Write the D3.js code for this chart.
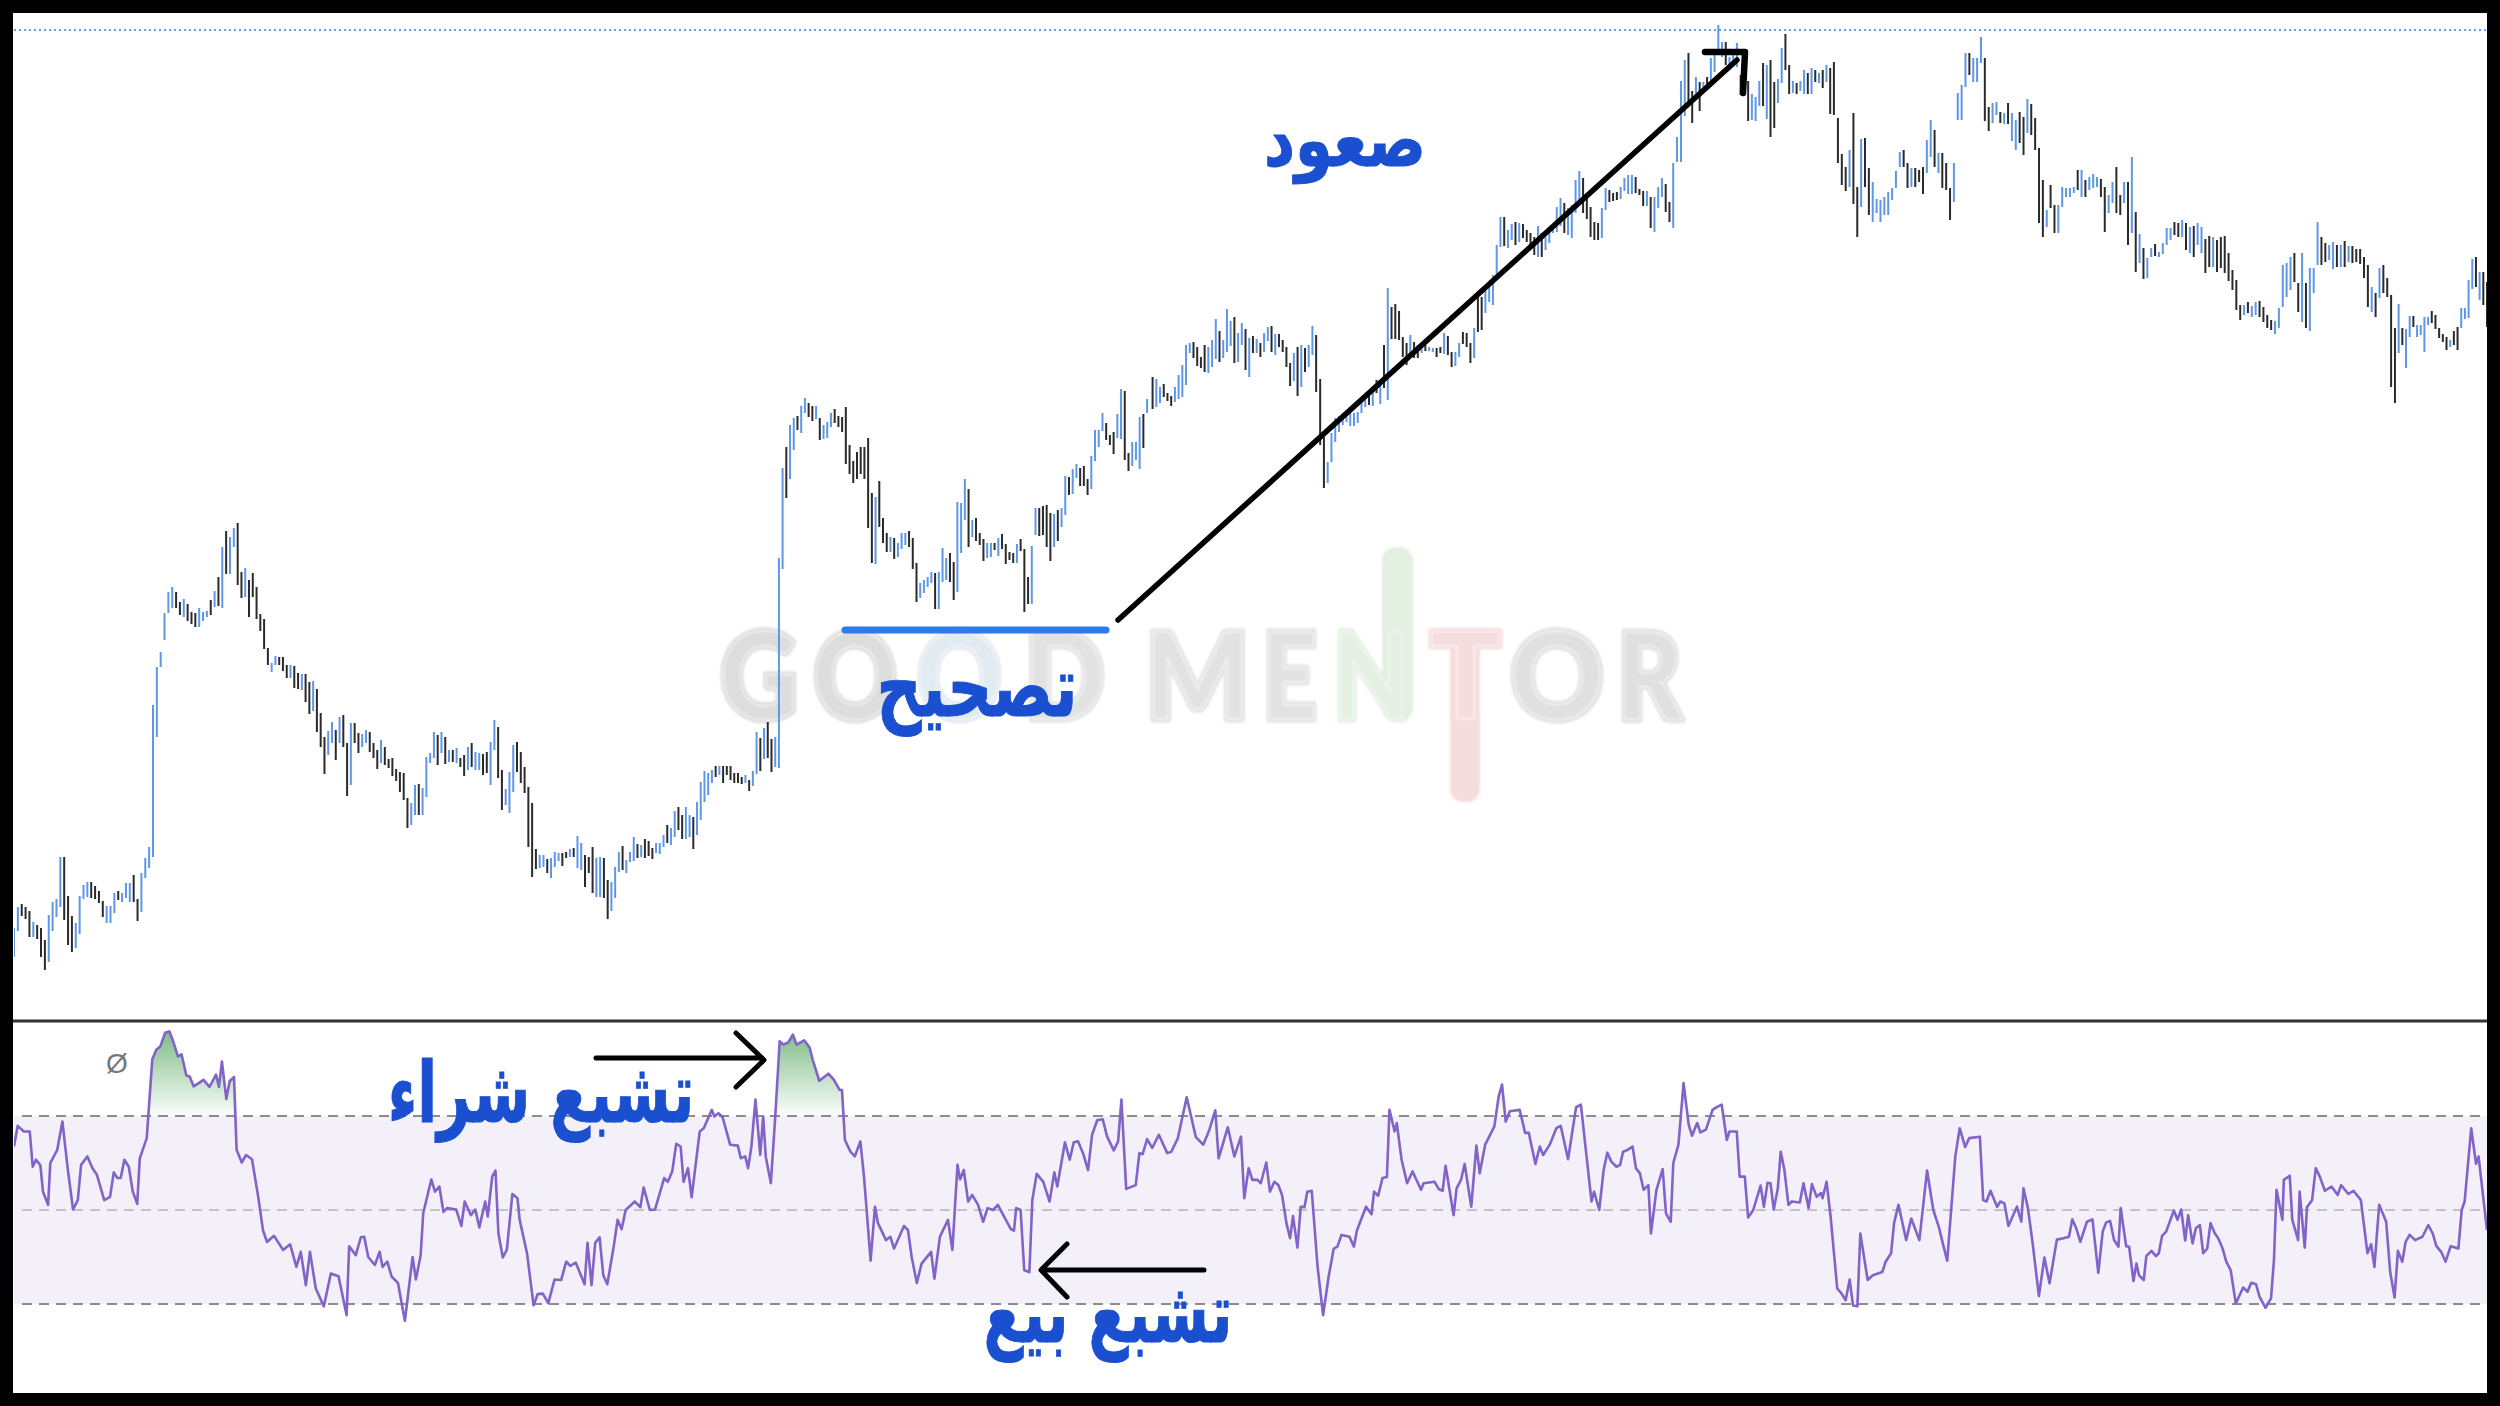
<!DOCTYPE html>
<html><head><meta charset="utf-8">
<script src="https://cdn.jsdelivr.net/npm/d3@7/dist/d3.min.js"></script>
<style>html,body{margin:0;padding:0;background:#000;overflow:hidden}svg{display:block}</style>
</head><body><svg id="c" width="2500" height="1406"></svg>
<script>
// price bars: [high, low, 1 = up / 0 = down]
const barsRun1=[[72,43,1],[93,69,1],[96,84,0],[93,81,0],[89,63,0],[78,63,1],[75,61,0],[72,43,0],[60,30,0],[85,38,1],[98,69,1],[101,83,1],[143,93,1],[143,80,0],[104,55,0],[84,48,0],[77,52,1],[104,66,1],[115,101,1],[118,103,1],[118,102,0],[114,101,0],[109,97,0],[99,83,0],[94,77,1],[94,77,1],[107,87,1],[109,100,0],[107,98,1],[117,102,1],[117,98,1],[125,98,0],[101,79,0],[127,88,1],[142,122,1],[153,132,1],[295,143,1],[333,263,1],[348,333,1],[387,360,1],[408,387,1],[413,392,1],[408,392,0],[398,385,0],[401,383,1],[396,379,0],[388,376,0],[387,373,0],[392,373,1],[388,379,1],[389,383,1],[400,385,0],[409,393,1],[423,394,0],[453,392,1],[469,426,0],[463,426,1],[472,453,1],[477,415,0],[428,402,0],[432,403,1],[420,383,0],[427,403,0],[413,381,0],[386,369,0],[381,351,0],[352,335,0],[337,328,1],[344,335,1],[343,335,0],[343,329,0],[335,322,0],[335,322,1],[334,312,0],[327,311,0],[326,310,1],[326,298,0],[318,286,0],[319,289,1],[311,268,0],[287,253,0],[263,226,0],[269,245,1],[278,257,1],[270,240,0],[283,257,1],[285,253,0],[257,204,0],[277,215,1],[277,257,0],[267,247,0],[266,253,1],[270,257,1],[268,248,0],[257,242,0],[250,231,0],[260,237,1],[253,235,0],[241,232,0],[242,224,0],[231,219,0],[228,208,0],[227,200,0],[202,172,0],[197,175,1],[215,185,1],[216,185,0],[212,185,1],[243,203,1],[247,237,1],[268,242,1],[265,235,0],[268,247,1],[263,236,0],[250,238,1],[250,238,0],[252,237,1],[242,233,0],[245,224,0],[253,230,1],[257,233,0],[248,230,1],[247,230,1],[246,225,0],[248,227,0],[258,215,1],[280,250,1],[273,222,0],[230,190,0],[211,195,1],[228,187,1],[255,208,1],[258,228,0],[248,217,0],[233,207,0],[213,153,0],[197,123,0],[151,131,0],[145,132,1],[145,133,1],[141,127,0],[142,122,1],[148,133,1],[147,139,1],[147,134,0],[148,142,0],[151,143,1],[152,143,0],[164,132,1],[157,130,1],[145,113,0],[143,127,0],[153,107,0],[142,103,1],[143,103,1],[142,102,0],[120,81,0],[118,89,1],[133,102,1],[148,128,1],[154,130,0],[140,127,1],[148,138,1],[163,139,1],[156,142,0],[155,143,1],[161,142,0],[159,144,0],[152,141,0],[157,147,1],[157,146,1],[165,153,1],[175,157,0],[172,155,1],[189,163,1],[193,170,0],[185,161,0],[193,161,1],[185,163,1],[183,151,0],[198,165,1],[218,180,1],[229,198,1],[227,205,1],[230,217,1],[234,223,0],[234,225,1],[234,217,0],[234,225,0],[234,220,0],[227,217,0],[227,217,0],[223,216,0],[225,217,1],[220,209,0],[229,214,1],[268,226,1],[262,229,0],[272,241,1],[278,242,0],[261,228,0],[263,233,1],[442,232,1]];
const barsRun2=[[532,431,1],[553,502,0],[575,521,1],[582,550,1],[584,570,0],[594,567,1],[602,587,1],[597,583,0],[594,579,0],[594,581,1],[582,560,0],[575,561,1],[578,562,1],[587,573,1],[591,577,0],[584,573,0],[583,568,0],[593,536,0],[555,526,0],[539,517,0],[548,521,0],[553,526,0],[553,521,0],[562,472,0],[507,437,0],[503,436,1],[519,473,0],[482,457,0],[467,448,0],[463,448,1],[462,441,0],[457,443,1],[467,451,1],[467,455,1],[469,453,0],[462,431,0],[437,398,0],[417,402,1],[420,407,1],[423,413,1],[428,417,1],[427,391,0],[428,391,1],[452,418,1],[442,420,1],[447,418,0],[438,400,0],[498,408,1],[497,447,1],[521,480,1],[511,453,0],[480,463,1],[482,459,0],[467,455,0],[461,439,0],[457,442,1],[457,443,1],[457,450,0],[462,444,1],[466,451,0],[456,436,0],[448,440,0],[447,437,0],[456,437,1],[461,449,0],[451,388,0],[423,396,0],[454,396,1],[492,465,1],[492,464,0],[494,465,0],[495,453,0],[487,439,0],[486,453,1],[490,459,0],[492,473,1],[524,485,1],[523,505,0],[531,506,1],[536,522,1],[532,514,0],[534,514,0],[521,505,0],[544,511,1],[570,539,1],[570,553,1],[587,569,1],[577,560,0],[565,555,0],[568,546,0],[586,562,1],[611,561,1],[609,540,0],[547,529,0],[558,534,1],[558,540,1],[583,531,1],[586,552,0],[601,587,1]];
const barsRun3=[[623,591,0],[621,593,1],[613,597,1],[616,603,0],[607,599,0],[604,594,0],[613,598,1],[625,601,1],[635,603,1],[655,615,1],[657,647,1],[658,642,0],[653,634,0],[643,632,0],[655,628,0],[653,627,1],[660,633,1],[681,641,1],[669,638,0],[660,642,1],[691,648,1],[679,654,1],[683,637,0],[667,638,1],[677,655,1],[671,630,0],[662,623,1],[664,647,0],[661,647,1],[657,643,0],[667,648,1],[673,659,1],[674,648,0],[666,645,1],[666,653,0],[660,648,0],[653,633,0],[637,614,0],[647,619,1],[653,604,0],[655,613,1],[652,628,0],[655,633,1],[674,645,1],[665,608,0]];
const barsRun4=[[621,555,0],[563,512,0],[538,517,1],[567,538,1],[582,558,1],[584,568,1],[585,575,1],[585,578,1],[587,574,1],[587,574,1],[588,577,1],[598,587,1],[602,593,1],[605,595,0],[612,594,1],[620,607,0],[617,596,1],[655,612,0],[712,600,1],[693,661,0],[696,661,0],[689,660,0],[663,643,0],[657,635,0],[665,643,1],[658,642,0],[655,642,0],[652,647,1],[655,649,0],[653,649,1],[652,648,1],[652,643,0],[653,647,0],[667,646,1],[664,645,0],[648,633,0],[648,634,1],[657,643,1],[668,656,0],[667,653,0],[657,637,0],[672,642,1],[703,668,0],[703,670,0],[710,687,1],[718,698,1],[725,695,1],[755,725,1],[783,753,1],[783,754,0],[770,752,1],[776,760,1],[778,755,0],[777,758,1],[776,762,0],[770,758,0],[767,755,0],[763,745,0],[774,743,1],[767,743,0],[763,750,1],[772,757,1],[776,767,1],[793,768,1],[802,774,1],[797,767,0],[792,765,1],[795,762,1],[820,787,1],[829,800,1],[822,787,0],[803,781,0],[793,763,0],[778,760,0],[777,760,0],[792,762,1],[812,790,1],[810,798,0],[807,799,0],[808,800,0],[813,801,1],[822,809,1],[825,806,1],[825,806,1],[823,807,0],[811,805,0],[809,794,0],[809,794,1],[803,772,0],[803,768,1],[813,792,1],[822,803,1],[816,788,0],[798,778,0],[837,772,1],[863,838,1]];
const barsRun5=[[919,838,1],[940,884,1],[947,895,0],[909,877,0],[923,900,1],[918,889,0],[918,909,1],[923,910,0],[942,920,1],[950,928,1],[975,947,1],[958,943,1],[958,935,0],[943,932,1],[948,933,1],[957,933,1],[925,905,0],[943,913,0],[919,879,0],[906,880,1],[903,879,1],[919,894,1],[937,894,0],[935,881,1],[940,863,0],[918,872,0],[921,897,1],[952,917,1],[966,930,0],[935,906,0],[919,907,1],[917,906,0],[919,909,1],[930,906,1],[927,906,0],[932,906,1],[930,918,0],[927,917,1],[930,912,0],[935,918,1],[932,886,0],[938,885,0]];
const barsRun6=[[882,837,0],[846,815,0],[833,809,0],[850,813,1],[887,796,0],[813,763,0],[861,793,1],[862,813,0],[832,785,0],[818,778,1],[801,787,1],[800,778,1],[803,785,1],[808,785,1],[812,800,1],[829,812,1],[848,833,1],[850,833,0],[837,812,0],[832,813,1],[832,813,0],[830,818,0],[833,806,0],[860,827,1],[880,843,1],[870,833,0],[847,827,1],[847,812,0],[837,810,0],[812,780,0],[837,798,1],[907,880,1],[915,880,1],[947,913,1],[947,925,0],[942,918,1],[942,918,1],[963,937,1],[942,879,0],[893,869,0],[897,877,1],[898,885,1],[888,877,0],[887,876,1],[897,876,0],[887,859,1],[880,850,1],[888,857,0],[883,845,0],[901,867,1],[896,865,0],[882,850,0],[852,777,0],[820,763,0],[790,773,1],[815,792,0],[795,767,0],[795,767,1],[813,793,1],[812,803,1],[812,803,1],[813,807,1],[830,810,0],[830,803,1],[820,803,0],[823,810,1],[826,812,1],[823,813,1],[821,803,0],[813,768,0],[805,787,1],[818,797,1],[833,787,0],[805,785,0],[818,797,1],[818,755,0],[843,767,1],[788,728,0],[766,737,1],[752,721,0],[742,722,1],[752,743,1],[756,744,0],[748,743,1],[757,746,1],[772,755,1],[772,760,1],[778,765,0],[777,763,0],[780,763,1],[777,750,0],[773,747,1],[774,743,0],[777,755,1],[773,747,1],[761,727,0],[764,733,0],[763,733,1],[760,728,0],[763,732,0],[764,727,0],[747,719,0],[730,710,0],[720,690,0],[695,680,0],[695,685,1],[698,687,0],[694,683,1],[698,685,1],[699,683,0],[693,678,0],[685,672,0],[680,670,0],[679,666,1],[692,672,1],[735,693,1],[737,703,1],[743,710,1],[747,718,0],[717,688,0],[747,678,1],[717,672,0],[732,669,1],[732,707,1],[778,735,1],[763,735,0],[757,738,0],[755,740,1],[758,731,1],[755,733,0],[755,733,1],[759,733,0],[754,738,1],[754,737,0],[751,738,0],[751,736,0],[743,722,0],[735,693,0],[713,688,1],[707,683,0],[732,702,1],[735,707,0],[722,703,0],[705,613,0],[672,597,0],[696,647,1],[672,655,0],[671,632,1],[684,663,1],[684,673,0],[675,663,1],[675,665,1],[683,648,1],[683,675,1],[689,677,0],[685,671,0],[672,662,0],[666,658,0],[663,650,0],[660,653,1],[669,655,0],[673,650,0],[692,672,1],[692,681,1],[720,682,1],[741,711,1],[743,713,0],[728,700,1],[728,695,0],[718,673,0]];
// where runs sit on the session's bar count: [position within run (negative = from its end), bar number]
const runAnchors=[[[0,0],[36,37.9],[58,61],[103,107.3],[156,161.9],[-1,208.6]],[[0,209.6],[-1,309]],[[0,310.5],[-1,355.1]],[[0,356.2],[-1,453.5]],[[0,454.6],[-1,496.3]],[[0,497.4],[37,536.4],[-26,649.3],[-1,674.4]]];
const barRuns=[barsRun1,barsRun2,barsRun3,barsRun4,barsRun5,barsRun6];

// RSI vertices: [bar, value]
const rsiPart1=[[0,63.5],[1,67.9],[2.7,66.7],[4.3,66.7],[5.1,59.2],[6,60.7],[7.2,59.5],[7.9,53.9],[9.3,51.1],[9.9,60],[11.8,62.8],[13.2,68.8],[14.7,58.5],[16.1,50.1],[17.4,52.1],[18.3,59.6],[20,61.4],[21.4,58.9],[22.6,57.5],[24.6,52.1],[26.2,52.8],[27.2,58],[28.2,56.8],[29.1,56.8],[30.1,60.7],[31.3,59.2],[32.4,53.9],[33.6,51.3],[34.3,61],[36.2,65.3],[37.7,82],[38.8,84.1],[39.9,84.8],[41.2,87.7],[42.4,88],[43.4,85.9],[44.7,82.7],[45.7,83.1],[47,78.6],[47.9,78.4],[49,76.3],[51.7,77.7],[53.3,76.2],[55.1,78.8],[55.9,76.2],[56.7,81.6],[57.9,73.6],[58.8,77.4],[60,78.3],[60.7,62.8],[62.1,60.1],[63.3,61.7],[64.9,60.8],[66.6,52.8],[67.9,45.7],[69,43.2],[70.9,44.5],[73.4,41.5],[75.3,42.7],[77,37.9],[78.2,41.1],[79.6,34],[80.7,41.1],[82.3,33.3],[84.5,29.5],[86.4,36.5],[88.5,35.9],[90.7,27.6],[91.4,42.3],[93.2,40.4],[94.6,44.2],[95.5,44.3],[96.6,40],[98.4,38.3],[99.7,41.1],[100.5,37.9],[101.8,39],[103,35.8],[104.7,34.5],[106.6,26.4],[108.7,40],[109.6,35.2],[110.9,40.4],[111.6,49.3],[113.8,56.5],[114.8,53.9],[116,55],[117.1,49.6],[118.1,50.4],[120.6,50.1],[122,46.6],[122.9,51.8],[124.6,48.9],[125.8,50.1],[126.9,46.3],[128.5,51.8],[129.2,48.6],[130.4,57.1],[131.3,58.4],[132.1,45],[133.3,39.9],[134.4,41.5],[135.9,53.4],[137.3,52.5],[137.9,47.9],[139.9,40.8],[141.7,29.7],[142.8,32.1],[144.2,32.2],[145.7,30.2],[147.4,35.2],[149.2,35.1],[150.6,39],[151.7,38.1],[153.2,38.8],[155.6,34.2],[156.4,43],[157.5,34],[158.5,43],[159.7,44.2],[160.7,36.1],[161.8,34.2],[163.6,42.5],[164.6,47.9],[165.7,45.9],[166.8,50],[169.3,51.8],[170.8,50.6],[171.7,54.8],[173.4,50],[174.8,50.1],[177.3,56.8],[178.3,56],[179.5,58.2],[180.6,64.1],[181.8,63.5],[182.6,56],[183.8,58.9],[184.8,52.7],[187,66.7],[188.1,67.4],[190.3,71.3],[191,69.9],[192.1,70.6],[193.2,69.8],[195.3,63.9],[197.4,63.7],[198.2,61],[199.4,61.4],[200.2,58.9],[201.1,63.5],[202.2,73.5],[203.5,61.7],[204.3,69.9],[205,61.4],[206.4,55.7],[207.6,69.9],[208.8,85.9],[209.8,85.2],[211.2,85.7],[212.4,87.3],[213.4,85.2],[215.5,86.1],[217,84.5],[217.8,82]];
const rsiPart2=[[219.6,77.5],[222.1,79],[223.6,77.7],[225.1,75.6],[225.8,75.5],[226.6,64.9],[228.1,62.4],[229.3,61.4],[230.8,64.6],[231.8,57.1],[233.6,39.2],[234.8,50.7],[235.6,47.2],[237.8,43.6],[239,44.3],[240,41.8],[242.7,46.6],[243.8,45.7],[244.8,40],[246.2,34.5],[247.5,38.6],[250.1,41.1],[251,35.4],[252.5,44.3],[254.7,47.9],[255.9,41.5],[257.3,59.6],[258,56.5],[259,58.5],[260.2,51.8],[261.3,53.2],[262.9,51.1],[264.3,47.5],[265.5,50.4],[267,50],[268.3,51.1],[270,48.6],[271.9,45.9],[272.7,45.6],[273.3,50.4],[274.5,50],[275.5,37.2],[276.9,36.8],[277.7,52.1],[278.9,57.7],[280.7,56],[282.4,51.8],[283.7,58],[284.5,55],[286.6,64.4],[287.9,60.7],[289,64.4],[290.2,64.6],[291.7,61.7],[292.9,58.5],[294,66],[295.4,69.1],[296.9,69.3],[298.1,65.6],[299.9,62.7],[301.1,64.6],[302,73.5],[303.3,54.5],[305.9,55.3],[306.9,62.1],[307.8,61.9],[309,65.1],[310.4,63.2],[312.2,66],[314.5,62.1],[315.6,62.4],[317.4,65.3],[319.8,74],[322.3,65.5],[324.3,63.9],[326,67.1],[327.6,71.2],[328.5,61],[331,67.6],[332.8,61.4],[334.6,65.6],[335.5,52.5],[336.7,58.9],[337.7,56.4],[339.1,56.4],[340,55.7],[341.5,60.1],[342.5,53.9],[343.7,56],[344.8,55.3],[345.8,53.2],[347,47.2],[348,44],[348.8,48.7],[350,42],[350.9,50.7],[351.9,50.6],[352.7,53.9],[353.9,54.1],[355.5,37.9],[357,27.6],[358.5,35.8],[359.9,41.8],[360.9,42.2],[362,44.7],[364.2,44.3],[365.4,42.2],[366.2,45.6],[368.7,50.7],[370.2,49.1],[370.9,53.9],[372,53],[373.2,56.8],[374.4,57],[375.1,71.3],[376.5,66.7],[377.1,68.5],[378.4,60.7],[379.9,55.7],[381.4,58.2],[383.7,54.3],[384.4,55.7],[387.4,56],[388.6,54.4],[389.6,54.1],[390.4,59.4],[392.6,48.9],[393.4,54.6],[394.6,56.4],[395.6,59.8],[397.4,50.7],[398.8,63.7],[399.7,57.8],[401.2,63.9],[403.7,67.8],[404.9,74.3],[405.8,76.7],[406.8,68.8],[407.9,71],[410.6,71.3],[412.1,66.4],[413.1,66.4],[414.9,59.8],[416.1,63.5],[417,61.7],[418.8,63.9],[420.6,67.4],[421.8,67.9],[423.8,60.8],[426,71.9],[427.3,72.4],[428.7,62.4],[430.2,51.8],[430.9,53.9],[432.3,50],[433.5,58.5],[434.5,62.2],[435.6,60.3],[437,59.2]];
const rsiPart3=[[438,59.6],[438.8,62.4],[439.8,62.7],[441.4,63.5],[442.3,58.9],[443.4,57.8],[444.4,54.3],[445.7,55.3],[446.4,45],[447.9,54.3],[449.6,58.7],[450.5,49.3],[451.8,47.5],[452.5,60],[453.9,63.9],[455.3,77],[456.7,68.1],[457.6,65.8],[459,68.5],[459.9,66.5],[461.4,67.1],[463.2,71.3],[464.3,71.9],[465.7,72.4],[467.1,64.9],[467.8,66.7],[469.8,66.7],[470.6,57.1],[472,57.1],[472.9,48.4],[474.3,50],[476.3,55.2],[477.2,50.7],[478.2,55.8],[479,55.7],[479.9,50.1],[481,54.6],[481.8,62.4],[482.8,58.5],[483.9,51.1],[484.8,51.8],[487,51.6],[488,55.7],[489.4,50.4],[490.3,55.5],[491.6,52.8],[492.8,53.6],[493.2,52.5],[494.3,56],[495.4,48.6],[497.2,33.3],[498.4,32.2],[499.5,30.8],[500.6,35.2],[501.5,29.7],[502.7,29.5],[503.5,45],[505.5,35.1],[506.9,36.1],[509.5,36.8],[510.4,39],[511.9,40.8],[512.7,47.2],[513.9,51.1],[516,43.6],[517.4,48.2],[519.6,43.6],[521.7,58.4],[523.4,50],[524.9,46.4],[526,42.9],[527.2,39.2],[529.4,61.4],[530.6,67.4],[532.1,63.4],[533.2,65.3],[536.1,65.6],[537,52.1],[537.9,51.8],[539,54.1],[540.8,50.7],[541.7,51.8],[542.8,51.4],[543.9,46.6],[546.2,50.7],[547.4,47.5],[548,54.6],[549.2,50.4],[550.5,42.9],[552.2,31.7],[553.7,39.9],[555.1,34.4],[557.1,43.7],[558.9,44],[560.4,44.3],[561.3,48],[562.4,46.1],[563.5,43.2],[565.3,47.5],[566.8,48],[568.4,36.6],[569.6,45.4],[570.5,47.3],[571.6,47.7],[572.7,43.6],[573.9,42.2],[574.5,50.4],[576,42.3],[576.8,42.2],[578,34.9],[578.8,38.6],[579.5,36.1],[580.8,35.1],[581.5,40.2],[582.9,41.3],[584.1,40.2],[584.9,40.8],[585.8,44.5],[586.9,45.4],[589,49.9],[590,47.9],[591,50.1],[592.1,43.5],[592.9,48.9],[594.1,42.9],[595,46.1],[596.1,46.8],[597,40.8],[598.1,41.8],[599,47.2],[600.2,45],[601.1,44],[602.3,41.8],[603.3,39],[604.5,37.2],[605.9,30.1],[607.9,33.5],[609.1,32.6],[610.1,34.5],[611.4,34.2],[612.4,31.5],[614,29.2],[615.5,31.2],[616.3,39.3],[617,54.3],[618.6,47.9],[619,56.4],[620.6,57.3],[621.3,47.9],[622.9,43.6],[623.3,53.9],[624.7,42],[625.3,50.6],[626.7,52.1],[627.7,58.9],[628.8,57.1],[630.2,54.1],[632,55],[633.7,53.2],[634.6,55.3],[636.6,53.4],[638,54.1],[640,52.1],[641.8,40.8],[642.8,42.7],[643.7,37.9],[645,51.1],[646.9,47.5],[648,36.8],[649.2,31.4],[650.1,41.3],[651.3,39],[652.2,43.2],[653.3,44.7],[654.8,43.6],[656.8,44.3],[658.4,46.8],[659.6,45],[660.6,42.3],[661.9,41.1],[663.1,39],[664.5,42.3],[666.6,41.8],[667.5,50],[668.3,51.8],[670.1,67.4],[671.4,59.8],[672.1,61.4],[674.4,45.7]];
const rsiLevels=[70,50,30];
const resistancePrice=970;

const labels=[
 {text:"صعود",cx:1345,cy:146,size:74,sx:.82},
 {text:"تصحيح",cx:977,cy:693,size:84,sx:.745},
 {text:"تشبع شراء",cx:541,cy:1099,size:84,sx:.69},
 {text:"تشبع بيع",cx:1108,cy:1319,size:84,sx:.69}
];
const wmLetters=[["G",720,798,"#dddddd"],["O",813,897,"#dddddd"],["O",917,1002,"#e2eaf2"],["D",1024,1105,"#e2e2e2"],["M",1145,1250,"#e2e2e2"],["E",1262,1317,"#e2e2e2"],["N",1333,1410,"#e4f0e2"],["T",1430,1501,"#f6dddd"],["O",1510,1604,"#e0e0e0"],["R",1617,1682,"#e0e0e0"]];

const svg=d3.select("#c");
const L=14,R=2487,T=13,B=1393;
const x=d3.scaleLinear().domain([0,674.4]).range([L,R]);
const yP=d3.scaleLinear().domain([0,1000]).range([1000,0]);
const yR=d3.scaleLinear().domain([30,70]).range([1304,1116]);

const defs=svg.append("defs");
defs.append("clipPath").attr("id","plot").append("rect").attr("x",L).attr("y",T).attr("width",R-L).attr("height",B-T);
defs.append("clipPath").attr("id","ob").append("rect").attr("x",L).attr("y",T).attr("width",R-L).attr("height",yR(70)-T);
const grad=defs.append("linearGradient").attr("id","obg").attr("gradientUnits","userSpaceOnUse").attr("x1",0).attr("x2",0).attr("y1",1030).attr("y2",yR(70));
grad.append("stop").attr("offset",0).attr("stop-color","#7dbb85");
grad.append("stop").attr("offset",1).attr("stop-color","#7dbb85").attr("stop-opacity",0.03);
defs.append("filter").attr("id","soft").append("feGaussianBlur").attr("stdDeviation",0.45);
defs.append("filter").attr("id","wmsoft").append("feGaussianBlur").attr("stdDeviation",1);

svg.append("rect").attr("width",2500).attr("height",1406).attr("fill","#000");
svg.append("rect").attr("x",L-1).attr("y",T).attr("width",R-L+1).attr("height",B-T).attr("fill","#fff");

// watermark
const wm=svg.append("g").attr("font-family","Lato").attr("font-weight",900).attr("font-size",120).attr("filter","url(#wmsoft)");
wm.append("rect").attr("x",1382).attr("y",547).attr("width",31).attr("height",175).attr("rx",14).attr("fill","#e4f0e2");
wm.append("rect").attr("x",1450).attr("y",630).attr("width",30).attr("height",172).attr("rx",13).attr("fill","#f6dddd");
wm.selectAll("text.f").data(wmLetters).join("text").attr("class","f")
  .attr("x",d=>d[1]).attr("y",719).attr("textLength",d=>d[2]-d[1]).attr("lengthAdjust","spacingAndGlyphs")
  .attr("fill",d=>d[3]).attr("stroke",d=>d[3]).attr("stroke-width",7).attr("stroke-linejoin","round").text(d=>d[0]);
wm.selectAll("text.h").data(wmLetters).join("text").attr("class","h")
  .attr("x",d=>d[1]).attr("y",719).attr("textLength",d=>d[2]-d[1]).attr("lengthAdjust","spacingAndGlyphs")
  .attr("fill","none").attr("stroke","#fff").attr("stroke-opacity",.6).attr("stroke-width",1.6).text(d=>d[0]);

// price bars
const gBars=svg.append("g").attr("clip-path","url(#plot)").attr("filter","url(#soft)");
barRuns.forEach((run,k)=>{
  const pts=runAnchors[k].map(a=>[a[0]<0?run.length+a[0]:a[0],a[1]]);
  const idx=d3.scaleLinear().domain(pts.map(p=>p[0])).range(pts.map(p=>p[1]));
  gBars.append("g").selectAll("line").data(run).join("line")
    .attr("x1",(d,i)=>x(idx(i))).attr("x2",(d,i)=>x(idx(i)))
    .attr("y1",d=>yP(d[0])).attr("y2",d=>yP(d[1]))
    .attr("stroke",d=>d[2]?"#5e97e8":"#2b2b2b").attr("stroke-width",2);
});
svg.append("line").attr("x1",L).attr("x2",R).attr("y1",yP(resistancePrice)).attr("y2",yP(resistancePrice))
  .attr("stroke","#6a9fe6").attr("stroke-width",2).attr("stroke-dasharray","2 3");

// separator
svg.append("line").attr("x1",L-1).attr("x2",R).attr("y1",1021).attr("y2",1021).attr("stroke","#333").attr("stroke-width",3);

// RSI pane
const rsi=[...rsiPart1,...rsiPart2,...rsiPart3];
svg.append("rect").attr("x",L).attr("width",R-L).attr("y",yR(70)).attr("height",yR(30)-yR(70)).attr("fill","#f3f0f9");
const area=d3.area().x(d=>x(d[0])).y0(yR(70)).y1(d=>yR(d[1]));
svg.append("path").datum(rsi).attr("d",area).attr("fill","url(#obg)").attr("clip-path","url(#ob)");
svg.append("g").selectAll("line").data(rsiLevels).join("line")
  .attr("x1",22).attr("x2",R).attr("y1",d=>yR(d)).attr("y2",d=>yR(d))
  .attr("stroke",d=>d===50?"#c4c4c4":"#8c8c8c").attr("stroke-width",2).attr("stroke-dasharray","10 7");
svg.append("g").attr("clip-path","url(#plot)").append("path").datum(rsi).attr("d",d3.line().x(d=>x(d[0])).y(d=>yR(d[1])))
  .attr("fill","none").attr("stroke","#8263c8").attr("stroke-width",2.6).attr("stroke-linejoin","round").attr("filter","url(#soft)");
svg.append("text").attr("x",117).attr("y",1073).attr("text-anchor","middle").attr("font-family","Liberation Sans").attr("font-size",28).attr("fill","#777").text("Ø");

// annotations
const ann=svg.append("g").attr("fill","none").attr("stroke","#000").attr("stroke-linecap","round").attr("stroke-linejoin","round");
ann.append("path").attr("d","M1118,620L1737,60").attr("stroke-width",5.5);
ann.append("path").attr("d","M1705,52L1745,52L1743,93").attr("stroke-width",6.5);
ann.append("path").attr("d","M596,1058L762,1058M736,1033L764,1060L736,1087").attr("stroke-width",5);
ann.append("path").attr("d","M1204,1270L1042,1270M1067,1244L1041,1270L1067,1297").attr("stroke-width",5);
svg.append("line").attr("x1",845).attr("x2",1106).attr("y1",630).attr("y2",630).attr("stroke","#2f7bea").attr("stroke-width",7).attr("stroke-linecap","round");

svg.append("g").selectAll("text").data(labels).join("text")
  .attr("transform",d=>`translate(${d.cx},${d.cy}) scale(${d.sx},1)`).attr("text-anchor","middle").attr("dominant-baseline","middle").attr("direction","rtl")
  .attr("font-family","DejaVu Sans").attr("font-weight",700).attr("font-size",d=>d.size)
  .attr("fill","#1a4fd0").attr("stroke","#1a4fd0").attr("stroke-width",1).text(d=>d.text);
</script></body></html>
